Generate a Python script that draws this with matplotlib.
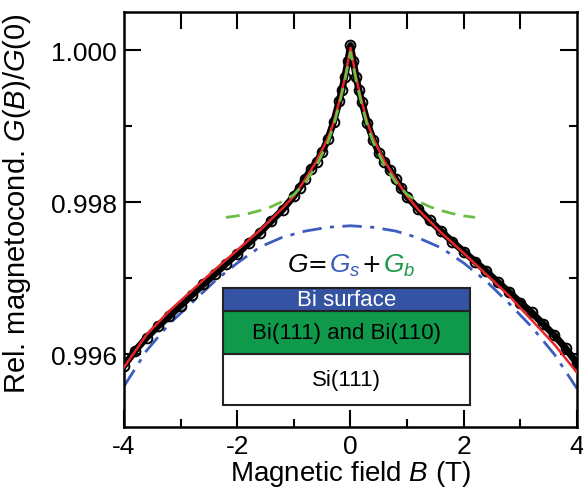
import matplotlib
matplotlib.use('Agg')
import matplotlib.pyplot as plt
from matplotlib.patches import Rectangle
from matplotlib.ticker import MultipleLocator

plt.rcParams['font.family'] = ['Liberation Sans', 'DejaVu Sans']
plt.rcParams['mathtext.fontset'] = 'custom'
plt.rcParams['mathtext.rm'] = 'Liberation Sans'
plt.rcParams['mathtext.it'] = 'Liberation Sans:italic'
plt.rcParams['axes.unicode_minus'] = False

FONT_SIZE = 21
LABEL_SIZE = 19

# measured data (black circles)
b_data = [-4.0, -3.8, -3.6, -3.4, -3.2, -3.0, -2.8, -2.6, -2.4, -2.2, -2.0, -1.8, -1.6, -1.4, -1.2,
          -1.0, -0.9, -0.8, -0.7, -0.6, -0.5, -0.4, -0.3, -0.2, -0.15, -0.1, -0.05, 0.0,
          0.05, 0.1, 0.15, 0.2, 0.3, 0.4, 0.5, 0.6, 0.7, 0.8, 0.9, 1.0, 1.2, 1.4, 1.6,
          1.8, 2.0, 2.2, 2.4, 2.6, 2.8, 3.0, 3.2, 3.4, 3.6, 3.8, 4.0]
g_data = [0.99585, 0.99605, 0.99622, 0.99637, 0.99650, 0.99664, 0.99678, 0.99692, 0.99705, 0.99719,
          0.99732, 0.99746, 0.99760, 0.99775, 0.99790, 0.99808, 0.99819, 0.99831, 0.99843, 0.99853,
          0.99866, 0.99883, 0.99905, 0.99933, 0.99948, 0.99965, 0.99985, 1.00006,
          0.99985, 0.99964, 0.99947, 0.99932, 0.99904, 0.99882, 0.99865, 0.99853, 0.99842,
          0.99830, 0.99818, 0.99807, 0.99791, 0.99776, 0.99762, 0.99748, 0.99735, 0.99722,
          0.99709, 0.99695, 0.99682, 0.99668, 0.99655, 0.99640, 0.99625, 0.99608, 0.99588]

# total fit (red)
b_fit = [-4.0, -3.6, -3.2, -2.8, -2.4, -2.0, -1.6, -1.2, -1.0, -0.8, -0.6, -0.4, -0.3, -0.2, -0.1, 0.0,
         0.1, 0.2, 0.3, 0.4, 0.6, 0.8, 1.0, 1.2, 1.6, 2.0, 2.4, 2.8, 3.2, 3.6, 4.0]
g_fit = [0.99583, 0.99626, 0.99657, 0.99684, 0.99711, 0.99737, 0.99763, 0.99792, 0.99808, 0.99830,
         0.99854, 0.99884, 0.99904, 0.99932, 0.99963, 1.00003,
         0.99963, 0.99932, 0.99904, 0.99884, 0.99854, 0.99830, 0.99808, 0.99790, 0.99760, 0.99733,
         0.99705, 0.99677, 0.99645, 0.99613, 0.99576]

# bulk contribution Gb (green)
b_bulk = [-2.2, -2.0, -1.8, -1.6, -1.4, -1.2, -1.0, -0.8, -0.6, -0.4, -0.3, -0.2, -0.1, 0.0,
          0.1, 0.2, 0.3, 0.4, 0.6, 0.8, 1.0, 1.2, 1.4, 1.6, 1.8, 2.0, 2.2]
g_bulk = [0.99780, 0.99782, 0.99785, 0.99789, 0.99794, 0.99801, 0.99810, 0.99826, 0.99848, 0.99879,
          0.99900, 0.99928, 0.99960, 0.99997,
          0.99960, 0.99928, 0.99900, 0.99879, 0.99848, 0.99826, 0.99810, 0.99801, 0.99794, 0.99789,
          0.99785, 0.99782, 0.99780]

# surface contribution Gs (blue)
b_surf = [-4.0, -3.6, -3.2, -2.8, -2.4, -2.0, -1.6, -1.2, -0.8, -0.4, 0.0,
          0.4, 0.8, 1.2, 1.6, 2.0, 2.4, 2.8, 3.2, 3.6, 4.0]
g_surf = [0.99558, 0.99605, 0.99640, 0.99668, 0.99696, 0.99720, 0.99741, 0.99754, 0.99762, 0.99767, 0.99769,
          0.99767, 0.99762, 0.99753, 0.99740, 0.99720, 0.99696, 0.99667, 0.99636, 0.99600, 0.99555]

# layer sketch (x range, y boundaries)
layer_x = (-2.25, 2.11)
layer_y = [0.99533, 0.99600, 0.99657, 0.99687]
layer_names = ['Si(111)', 'Bi(111) and Bi(110)', 'Bi surface']
layer_colors = ['white', '#0e9a4a', '#3553a3']
layer_text_colors = ['black', 'black', 'white']

fig = plt.figure(figsize=(5.83, 4.89), dpi=100)
ax = fig.add_axes([0.2127, 0.1256, 0.777, 0.8478])

ax.plot(b_surf, g_surf, color='#3d5cc0', linestyle=(0, (7, 3, 1.5, 3)), linewidth=2, zorder=2)
ax.plot(b_data, g_data, color='black', linewidth=5, marker='o', markersize=7,
        markerfacecolor='none', markeredgecolor='black', markeredgewidth=1.4, zorder=3)
ax.plot(b_fit, g_fit, color='#e8262a', linewidth=1.8, zorder=4)
ax.plot(b_bulk, g_bulk, color='#6cbd45', linestyle=(0, (5, 3)), linewidth=2, zorder=5)

# layer sketch
x0, x1 = layer_x
for i in range(len(layer_names)):
    ax.add_patch(Rectangle((x0, layer_y[i]), x1 - x0, layer_y[i + 1] - layer_y[i],
                           facecolor=layer_colors[i], edgecolor='#222222', linewidth=1.5, zorder=6))
    ax.text((x0 + x1) / 2, (layer_y[i] + layer_y[i + 1]) / 2, layer_names[i],
            ha='center', va='center', fontsize=16, color=layer_text_colors[i], zorder=7)

# G = Gs + Gb
eq_y = 0.99709
ax.text(-1.12, eq_y, r'$G$', fontsize=19, color='black', va='baseline')
ax.text(-0.76, eq_y, '=', fontsize=17, color='black', va='baseline', family='DejaVu Sans')
ax.text(-0.38, eq_y, r'$G_s$', fontsize=19, color='#3d5cc0', va='baseline')
ax.text(0.19, eq_y, '+', fontsize=17, color='black', va='baseline', family='DejaVu Sans')
ax.text(0.58, eq_y, r'$G_b$', fontsize=19, color='#1a9a4a', va='baseline')

ax.set_xlim(-4, 4)
ax.set_ylim(0.99505, 1.0005)
ax.set_xticks([-4, -2, 0, 2, 4])
ax.xaxis.set_minor_locator(MultipleLocator(1))
ax.set_yticks([0.996, 0.998, 1.000])
ax.set_yticklabels(['0.996', '0.998', '1.000'])
ax.yaxis.set_minor_locator(MultipleLocator(0.001))
ax.tick_params(which='major', direction='in', length=12, width=1.5, labelsize=LABEL_SIZE,
               left=True, right=True, bottom=True, top=False, pad=5)
ax.tick_params(which='minor', direction='in', length=6, width=1.5,
               left=True, right=True, bottom=True, top=False)
top = ax.secondary_xaxis('top')
top.set_xticks([-3, -2, -1, 0, 1, 2, 3])
top.tick_params(direction='in', length=12, width=1.5, labeltop=False)
top.spines['top'].set_visible(False)
for s in ax.spines.values():
    s.set_linewidth(1.8)

ax.set_xlabel(r'Magnetic field $B$ (T)', fontsize=20, labelpad=0)
ax.set_ylabel(r'Rel. magnetocond. $G$($B$)/$G$(0)', fontsize=FONT_SIZE)
ax.yaxis.set_label_coords(-0.20, 0.54)

plt.savefig('out.png', dpi=100)
